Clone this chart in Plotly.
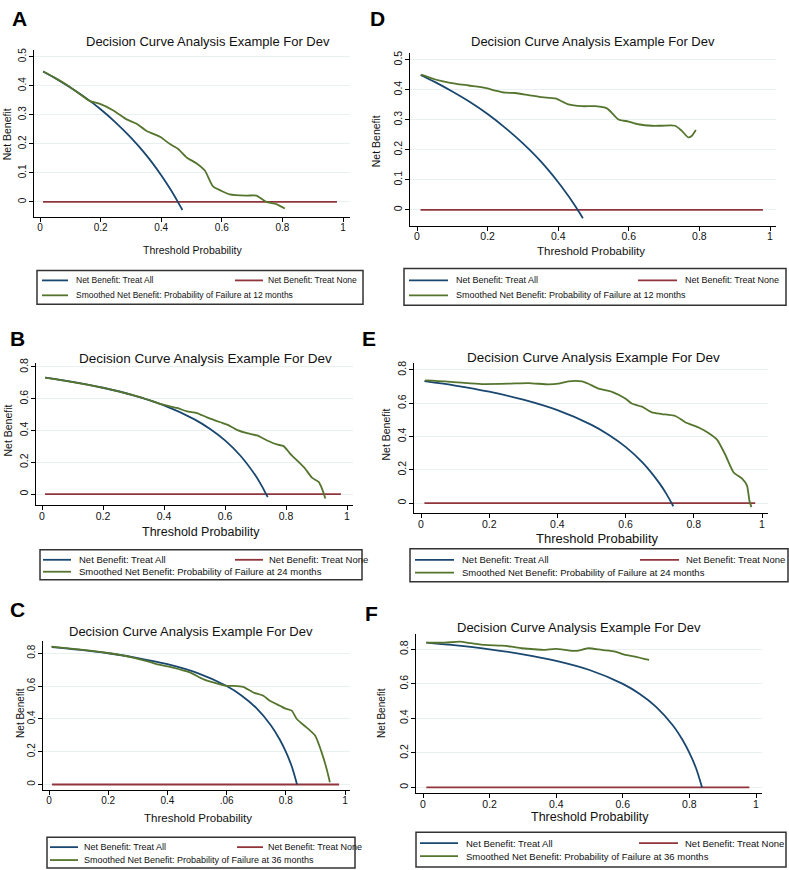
import plotly.graph_objects as go

W, H = 789, 870

# ---------------- data ----------------
none_x = [0.01, 0.98]
none_y = [0.0, 0.0]

# 12 months (A, D)
all12_x = [0.01, 0.05, 0.10, 0.15, 0.20, 0.25, 0.30, 0.35, 0.40, 0.43, 0.455, 0.47]
all12_y = [0.449, 0.426, 0.394, 0.359, 0.319, 0.273, 0.221, 0.162, 0.092, 0.044, 0.0, -0.028]

A_smooth_x = [0.011, 0.05, 0.088, 0.125, 0.165, 0.198, 0.242, 0.286, 0.319, 0.352, 0.396, 0.429,
              0.456, 0.484, 0.516, 0.544, 0.571, 0.599, 0.626, 0.681, 0.714, 0.747, 0.780, 0.808]
A_smooth_y = [0.449, 0.427, 0.403, 0.376, 0.347, 0.3375, 0.315, 0.284, 0.269, 0.244, 0.224, 0.199,
              0.182, 0.153, 0.133, 0.108, 0.053, 0.0375, 0.026, 0.0216, 0.0216, 0.0, -0.008, -0.023]

D_smooth_x = [0.012, 0.052, 0.094, 0.146, 0.193, 0.222, 0.25, 0.278, 0.316, 0.354, 0.392, 0.429,
              0.467, 0.505, 0.538, 0.571, 0.599, 0.627, 0.665, 0.693, 0.731, 0.75, 0.769, 0.778, 0.79]
D_smooth_y = [0.450, 0.434, 0.423, 0.414, 0.406, 0.397, 0.390, 0.389, 0.382, 0.375, 0.371, 0.351,
              0.345, 0.345, 0.338, 0.301, 0.294, 0.285, 0.280, 0.280, 0.280, 0.263, 0.241, 0.246, 0.266]

# 24 months (B, E)
all24_x = [0.01, 0.10, 0.20, 0.30, 0.40, 0.50, 0.55, 0.60, 0.65, 0.70, 0.72, 0.74]
all24_y = [0.732, 0.706, 0.669, 0.621, 0.558, 0.470, 0.411, 0.338, 0.243, 0.117, 0.054, -0.019]

B_smooth_x = [0.011, 0.082, 0.148, 0.213, 0.279, 0.333, 0.388, 0.41, 0.443, 0.475, 0.508, 0.541,
              0.585, 0.607, 0.639, 0.672, 0.705, 0.738, 0.770, 0.792, 0.814, 0.836, 0.863, 0.885,
              0.907, 0.918, 0.929]
B_smooth_y = [0.733, 0.711, 0.689, 0.663, 0.632, 0.603, 0.567, 0.556, 0.542, 0.521, 0.510, 0.483,
              0.452, 0.4375, 0.404, 0.383, 0.369, 0.3375, 0.3125, 0.302, 0.254, 0.2125, 0.160, 0.104,
              0.077, 0.035, -0.027]

E_smooth_x = [0.012, 0.07, 0.119, 0.178, 0.256, 0.315, 0.374, 0.403, 0.432, 0.472, 0.491, 0.521,
              0.560, 0.599, 0.618, 0.648, 0.677, 0.706, 0.746, 0.775, 0.814, 0.843, 0.868, 0.892,
              0.917, 0.941, 0.956, 0.963, 0.969]
E_smooth_y = [0.737, 0.731, 0.723, 0.715, 0.717, 0.721, 0.713, 0.717, 0.731, 0.731, 0.717, 0.687,
              0.668, 0.628, 0.598, 0.579, 0.545, 0.535, 0.523, 0.486, 0.454, 0.421, 0.381, 0.292,
              0.184, 0.148, 0.105, 0.016, -0.024]

# 36 months (C, F)
all36_x = [0.01, 0.10, 0.20, 0.30, 0.40, 0.50, 0.60, 0.65, 0.70, 0.75, 0.78, 0.80, 0.82, 0.838]
all36_y = [0.838, 0.822, 0.800, 0.771, 0.733, 0.680, 0.600, 0.543, 0.467, 0.360, 0.273, 0.200, 0.111, 0.0]

C_smooth_x = [0.008, 0.115, 0.205, 0.284, 0.340, 0.363, 0.419, 0.476, 0.521, 0.566, 0.600, 0.622,
              0.656, 0.690, 0.724, 0.746, 0.780, 0.797, 0.820, 0.837, 0.870, 0.899, 0.921, 0.938, 0.949]
C_smooth_y = [0.840, 0.820, 0.800, 0.774, 0.747, 0.733, 0.713, 0.683, 0.642, 0.616, 0.601, 0.601,
              0.595, 0.561, 0.541, 0.510, 0.480, 0.464, 0.450, 0.399, 0.348, 0.298, 0.196, 0.095, 0.014]

F_smooth_x = [0.01, 0.065, 0.11, 0.145, 0.186, 0.236, 0.266, 0.296, 0.336, 0.361, 0.396, 0.416,
              0.441, 0.466, 0.496, 0.537, 0.577, 0.607, 0.637, 0.679]
F_smooth_y = [0.838, 0.838, 0.844, 0.835, 0.825, 0.821, 0.815, 0.806, 0.800, 0.796, 0.802, 0.800,
              0.792, 0.792, 0.806, 0.796, 0.787, 0.767, 0.758, 0.738]

x_tickvals = [0, 0.2, 0.4, 0.6, 0.8, 1]
x_ticktext = ["0", "0.2", "0.4", "0.6", "0.8", "1"]
x_ticktext_C = ["0", "0.2", "0.4", ".06", "0.8", "1"]
y_tickvals_12 = [0, 0.1, 0.2, 0.3, 0.4, 0.5]
y_ticktext_12 = ["0", "0.1", "0.2", "0.3", "0.4", "0.5"]
y_tickvals_24 = [0, 0.2, 0.4, 0.6, 0.8]
y_ticktext_24 = ["0", "0.2", "0.4", "0.6", "0.8"]

title_text = "Decision Curve Analysis Example For Dev"
lab_all = "Net Benefit: Treat All"
lab_none = "Net Benefit: Treat None"
lab_smooth = "Smoothed Net Benefit: Probability of Failure at {} months"

# ---------------- layout config (pixel positions) ----------------
BLUE = "#1a476f"
RED = "#90353b"
GREEN = "#55752f"
GRID = "#e8f0f2"
FONT = "Liberation Sans, Arial, sans-serif"

panels = [
    dict(letter="A", letter_xy=(19, 14),
         all_x=all12_x, all_y=all12_y, sm_x=A_smooth_x, sm_y=A_smooth_y, months=12,
         xdom=(34, 350), xt=(40, 343), ydom=(45, 213), yt=(198, 52), yv=(0, 0.5),
         yticks=(y_tickvals_12, y_ticktext_12), xtext=x_ticktext,
         title_xy=(208, 37), xtitle_xy=(192, 246), ytitle_xy=(7, 130),
         fs=dict(tick=10, title=13, xtitle=10.5, ytitle=10.5, leg=8.5),
         box=(37, 267, 363, 301), rows=(277, 292), key1=(42, 68), key2=(235, 263),
         txt1=74, txt2=266),
    dict(letter="D", letter_xy=(377, 14),
         all_x=all12_x, all_y=all12_y, sm_x=D_smooth_x, sm_y=D_smooth_y, months=12,
         xdom=(410, 776), xt=(417, 770), ydom=(48, 222), yt=(206, 55), yv=(0, 0.5),
         yticks=(y_tickvals_12, y_ticktext_12), xtext=x_ticktext,
         title_xy=(593, 37), xtitle_xy=(591, 247), ytitle_xy=(376, 137),
         fs=dict(tick=10.5, title=13, xtitle=11.5, ytitle=10.5, leg=9),
         box=(404, 265, 786, 302), rows=(277, 292), key1=(409, 448), key2=(638, 677),
         txt1=454, txt2=683),
    dict(letter="B", letter_xy=(17, 335),
         all_x=all24_x, all_y=all24_y, sm_x=B_smooth_x, sm_y=B_smooth_y, months=24,
         xdom=(36, 353), xt=(42, 347), ydom=(360, 503), yt=(492, 364), yv=(0, 0.8),
         yticks=(y_tickvals_24, y_ticktext_24), xtext=x_ticktext,
         title_xy=(206, 356), xtitle_xy=(201, 530), ytitle_xy=(8, 428),
         fs=dict(tick=10.5, title=13.5, xtitle=12.5, ytitle=10.5, leg=9.5),
         box=(40, 548, 362, 578), rows=(558, 570), key1=(43, 71), key2=(235, 263),
         txt1=77, txt2=267),
    dict(letter="E", letter_xy=(369, 335),
         all_x=all24_x, all_y=all24_y, sm_x=E_smooth_x, sm_y=E_smooth_y, months=24,
         xdom=(414, 768), xt=(421, 762), ydom=(360, 511), yt=(501, 367), yv=(0, 0.8),
         yticks=(y_tickvals_24, y_ticktext_24), xtext=x_ticktext,
         title_xy=(593, 355), xtitle_xy=(597, 537), ytitle_xy=(386, 432),
         fs=dict(tick=10.5, title=13.5, xtitle=13, ytitle=10.5, leg=9.5),
         box=(410, 547, 788, 580), rows=(558, 571), key1=(415, 454), key2=(640, 679),
         txt1=460, txt2=684),
    dict(letter="C", letter_xy=(17, 608),
         all_x=all36_x, all_y=all36_y, sm_x=C_smooth_x, sm_y=C_smooth_y, months=36,
         xdom=(43, 350), xt=(49, 345), ydom=(640, 790), yt=(784, 652), yv=(0, 0.8),
         yticks=(y_tickvals_24, y_ticktext_24), xtext=x_ticktext_C,
         title_xy=(191, 630), xtitle_xy=(198, 818), ytitle_xy=(21, 712),
         fs=dict(tick=10, title=13, xtitle=11.5, ytitle=10, leg=9),
         box=(47, 837, 355, 868), rows=(847, 860), key1=(50, 78), key2=(237, 263),
         txt1=82, txt2=266),
    dict(letter="F", letter_xy=(371, 612),
         all_x=all36_x, all_y=all36_y, sm_x=F_smooth_x, sm_y=F_smooth_y, months=36,
         xdom=(416, 762), xt=(423, 756), ydom=(633, 793), yt=(787, 648), yv=(0, 0.8),
         yticks=(y_tickvals_24, y_ticktext_24), xtext=x_ticktext,
         title_xy=(579, 626), xtitle_xy=(590, 817), ytitle_xy=(382, 712),
         fs=dict(tick=10.5, title=13, xtitle=12.5, ytitle=10, leg=9.5),
         box=(416, 832, 786, 867), rows=(843, 856), key1=(420, 458), key2=(639, 678),
         txt1=464, txt2=683),
]


def px(x):
    return x / W


def py(y):
    return 1 - y / H


fig = go.Figure()
layout = dict(width=W, height=H, margin=dict(l=0, r=0, t=0, b=0),
              paper_bgcolor="white", plot_bgcolor="white", showlegend=False,
              font=dict(family=FONT, color="#111"))
shapes = []
annotations = []

for i, p in enumerate(panels):
    n = "" if i == 0 else str(i + 1)
    xref, yref = "x" + n, "y" + n
    # axis ranges from pixel calibration
    xl, xr = p["xdom"]
    t0, t1 = p["xt"]
    sx = 1.0 / (t1 - t0)
    xrange = [(xl - t0) * sx, (xr - t0) * sx]
    yt_top, yt_bot = p["ydom"]
    y0p, y1p = p["yt"]
    v0, v1 = p["yv"]
    sy = (v1 - v0) / (y0p - y1p)
    yrange = [v0 + (y0p - yt_bot) * sy, v0 + (y0p - yt_top) * sy]

    layout["xaxis" + n] = dict(
        domain=[px(xl), px(xr)], range=xrange, anchor=yref,
        showline=True, linecolor="#000", linewidth=1, mirror=False,
        ticks="outside", ticklen=4, tickcolor="#000", tickwidth=1,
        ticklabelstandoff=-3,
        tickvals=x_tickvals, ticktext=p["xtext"], showgrid=False, zeroline=False,
        tickfont=dict(size=p["fs"]["tick"], family=FONT, color="#111"), fixedrange=True)
    layout["yaxis" + n] = dict(
        domain=[py(yt_bot), py(yt_top)], range=yrange, anchor=xref,
        showline=True, linecolor="#000", linewidth=1,
        ticks="outside", ticklen=4, tickcolor="#000", tickwidth=1,
        ticklabelstandoff=-1,
        tickvals=p["yticks"][0], ticktext=p["yticks"][1], tickangle=-90,
        showgrid=True, gridcolor=GRID, gridwidth=1, zeroline=False,
        tickfont=dict(size=p["fs"]["tick"], family=FONT, color="#111"), fixedrange=True)

    fig.add_trace(go.Scatter(x=none_x, y=none_y, mode="lines", xaxis=xref, yaxis=yref,
                             line=dict(color=RED, width=1.8), name=lab_none))
    fig.add_trace(go.Scatter(x=p["all_x"], y=p["all_y"], mode="lines", xaxis=xref, yaxis=yref,
                             line=dict(color=BLUE, width=1.8, shape="spline", smoothing=0.8),
                             name=lab_all))
    fig.add_trace(go.Scatter(x=p["sm_x"], y=p["sm_y"], mode="lines", xaxis=xref, yaxis=yref,
                             line=dict(color=GREEN, width=1.8, shape="spline", smoothing=0.6),
                             name=lab_smooth.format(p["months"])))

    # texts
    lx, ly = p["letter_xy"]
    annotations.append(dict(text="<b>%s</b>" % p["letter"], x=px(lx), y=py(ly), xref="paper", yref="paper",
                            showarrow=False, xanchor="center", yanchor="middle",
                            font=dict(size=21, family=FONT, color="#000")))
    tx, ty = p["title_xy"]
    annotations.append(dict(text=title_text, x=px(tx), y=py(ty), xref="paper", yref="paper",
                            showarrow=False, xanchor="center", yanchor="middle",
                            font=dict(size=p["fs"]["title"], family=FONT, color="#111")))
    tx, ty = p["xtitle_xy"]
    annotations.append(dict(text="Threshold Probability", x=px(tx), y=py(ty), xref="paper", yref="paper",
                            showarrow=False, xanchor="center", yanchor="middle",
                            font=dict(size=p["fs"]["xtitle"], family=FONT, color="#111")))
    tx, ty = p["ytitle_xy"]
    annotations.append(dict(text="Net Benefit", x=px(tx), y=py(ty), xref="paper", yref="paper",
                            showarrow=False, xanchor="center", yanchor="middle", textangle=-90,
                            font=dict(size=p["fs"]["ytitle"], family=FONT, color="#111")))

    # legend box
    bx0, by0, bx1, by1 = p["box"]
    shapes.append(dict(type="rect", xref="paper", yref="paper", x0=px(bx0), x1=px(bx1),
                       y0=py(by1), y1=py(by0), line=dict(color="#333", width=1.5),
                       fillcolor="white", layer="above"))
    r1, r2 = p["rows"]
    k1a, k1b = p["key1"]
    k2a, k2b = p["key2"]
    for (ka, kb, ry, col) in [(k1a, k1b, r1, BLUE), (k2a, k2b, r1, RED), (k1a, k1b, r2, GREEN)]:
        shapes.append(dict(type="line", xref="paper", yref="paper", x0=px(ka), x1=px(kb),
                           y0=py(ry), y1=py(ry), line=dict(color=col, width=1.8), layer="above"))
    lf = dict(size=p["fs"]["leg"], family=FONT, color="#111")
    for (tx_, ry, txt) in [(p["txt1"], r1, lab_all), (p["txt2"], r1, lab_none),
                           (p["txt1"], r2, lab_smooth.format(p["months"]))]:
        annotations.append(dict(text=txt, x=px(tx_), y=py(ry), xref="paper", yref="paper",
                                showarrow=False, xanchor="left", yanchor="middle", font=lf))

layout["shapes"] = shapes
layout["annotations"] = annotations
fig.update_layout(**layout)
fig.write_html("out.html")
